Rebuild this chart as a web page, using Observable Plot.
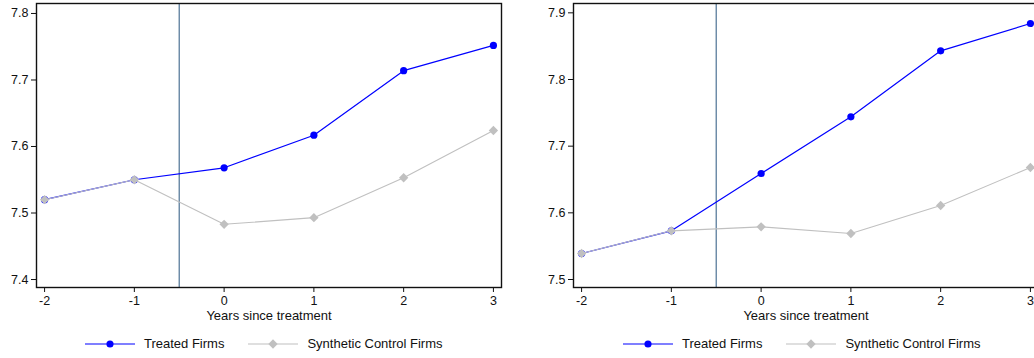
<!DOCTYPE html>
<html>
<head>
<meta charset="utf-8">
<script src="https://cdn.jsdelivr.net/npm/d3@7"></script>
<script src="https://cdn.jsdelivr.net/npm/@observablehq/plot@0.6"></script>
<style>
  html, body { margin: 0; padding: 0; background: #fff; }
  body { width: 1034px; height: 358px; overflow: hidden; position: relative; font-family: "Liberation Sans", Arial, Helvetica, sans-serif; }
  .panel { position: absolute; top: 0; }
  .panel svg { max-width: none !important; }
  .legend { position: absolute; top: 336px; display: flex; align-items: center; font-size: 13px; color: #111; white-space: nowrap; }
  .legend .item { display: flex; align-items: center; }
  .legend svg { display: block; margin-right: 9px; }
</style>
</head>
<body>
<div id="left" class="panel" style="left:0px; width:517px"></div>
<div id="right" class="panel" style="left:517px; width:530px"></div>
<div id="legL" class="legend" style="left:85px"></div>
<div id="legR" class="legend" style="left:623px"></div>
<script>
const years = [-2, -1, 0, 1, 2, 3];
const treatedA   = [7.520, 7.550, 7.568, 7.617, 7.714, 7.752];
const syntheticA = [7.520, 7.550, 7.483, 7.493, 7.553, 7.624];
const treatedB   = [7.539, 7.573, 7.659, 7.744, 7.843, 7.884];
const syntheticB = [7.539, 7.573, 7.579, 7.569, 7.611, 7.668];
const yTicksA = [7.4, 7.5, 7.6, 7.7, 7.8];
const yTicksB = [7.5, 7.6, 7.7, 7.8, 7.9];
const xTicks = [-2, -1, 0, 1, 2, 3];
const treatYear = -0.5;
const seriesNames = ["Treated Firms", "Synthetic Control Firms"];
const xLabel = "Years since treatment";

const BLUE = "#0000ff", GRAY = "#c0c0c0", VLINE = "#5b7d9c";

function makePanel(treated, synth, yTicks, yDomain, opts) {
  const tData = years.map((x, i) => ({x, y: treated[i]}));
  const sData = years.map((x, i) => ({x, y: synth[i]}));
  return Plot.plot({
    width: opts.width,
    height: 330,
    marginLeft: opts.marginLeft,
    marginRight: opts.marginRight,
    marginTop: 3,
    marginBottom: 43,
    style: {fontFamily: '"Liberation Sans", Arial, Helvetica, sans-serif', fontSize: "12.5px", color: "#111", background: "white", maxWidth: "none"},
    x: {domain: [-2.09, 3.09]},
    y: {domain: yDomain},
    marks: [
      Plot.ruleX([treatYear], {stroke: VLINE, strokeWidth: 1.3}),
      Plot.line(tData, {x: "x", y: "y", stroke: BLUE, strokeWidth: 1.2}),
      Plot.dot(tData, {x: "x", y: "y", fill: BLUE, r: 3.6, symbol: "circle"}),
      Plot.line(sData, {x: "x", y: "y", stroke: GRAY, strokeWidth: 1.1}),
      Plot.dot(sData, {x: "x", y: "y", fill: GRAY, r: 4.2, symbol: "diamond2"}),
      Plot.axisY(yTicks, {tickSize: 5, tickPadding: 3, tickFormat: d => d.toFixed(1), label: null, stroke: "#111", strokeWidth: 1}),
      Plot.axisX(xTicks, {tickSize: 5, tickPadding: 4, tickFormat: d => String(d), label: null, stroke: "#111", strokeWidth: 1}),
      Plot.frame({stroke: "#111", strokeWidth: 1.4}),
      Plot.text([xLabel], {frameAnchor: "bottom", dy: 32, text: d => d, fill: "#111", fontSize: 13})
    ]
  });
}

document.getElementById("left").append(
  makePanel(treatedA, syntheticA, yTicksA, [7.388, 7.815], {width: 517, marginLeft: 36, marginRight: 16})
);
document.getElementById("right").append(
  makePanel(treatedB, syntheticB, yTicksB, [7.488, 7.914], {width: 530, marginLeft: 56, marginRight: 9})
);

function legend(el) {
  const colors = [BLUE, GRAY];
  const shapes = ["circle", "diamond"];
  seriesNames.forEach((name, i) => {
    const item = document.createElement("div");
    item.className = "item";
    if (i > 0) item.style.marginLeft = "24px";
    const sym = shapes[i] === "circle" ? d3.symbol(d3.symbolCircle, 40)() : d3.symbol(d3.symbolDiamond2, 55)();
    item.innerHTML = `<svg width="50" height="12"><line x1="0" x2="50" y1="6" y2="6" stroke="${colors[i]}" stroke-width="1.2"/><path transform="translate(25,6)" d="${sym}" fill="${colors[i]}"/></svg>`;
    const span = document.createElement("span");
    span.textContent = name;
    item.append(span);
    el.append(item);
  });
}
legend(document.getElementById("legL"));
legend(document.getElementById("legR"));
</script>
</body>
</html>
